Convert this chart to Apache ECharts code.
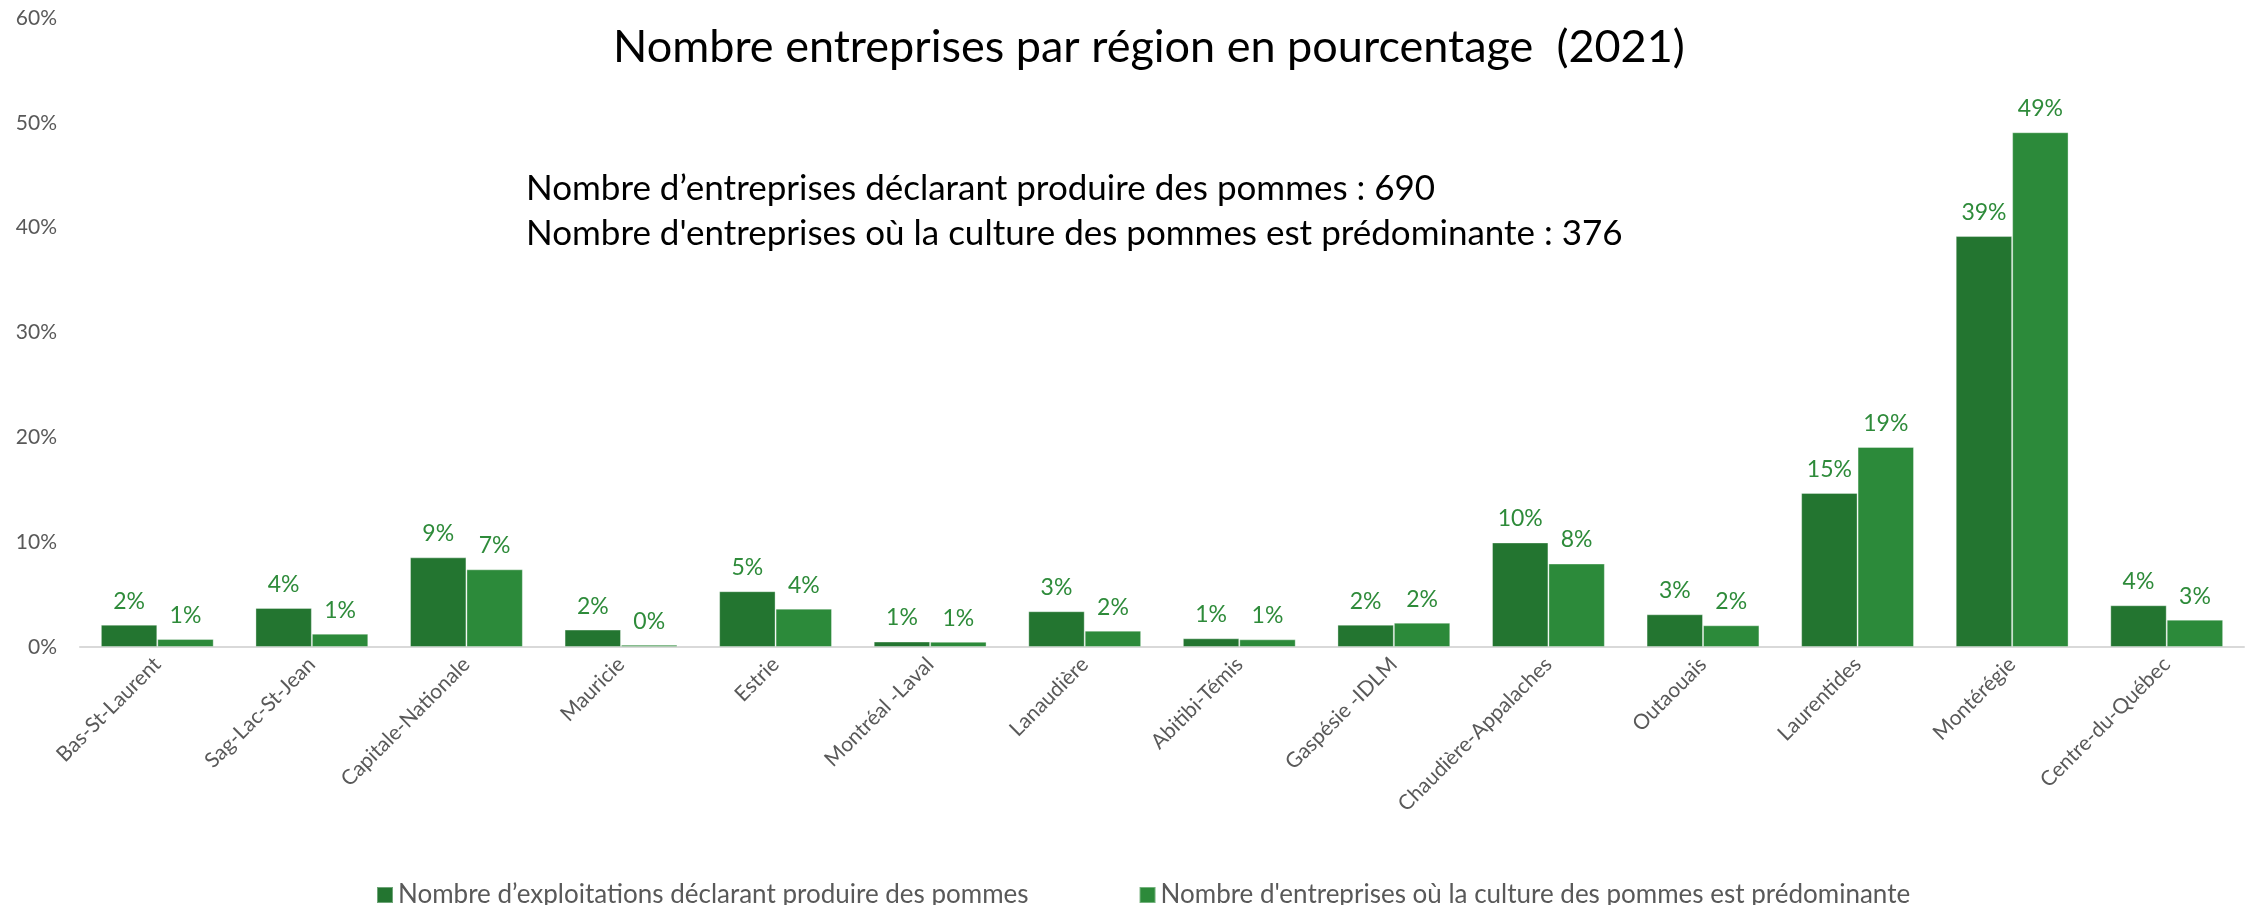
<!DOCTYPE html>
<html>
<head>
<meta charset="utf-8">
<script src="https://cdn.jsdelivr.net/npm/echarts@6/dist/echarts.min.js"></script>
<style>html,body{margin:0;padding:0;background:#fff}#c{width:2254px;height:905px}</style>
</head>
<body>
<div id="c"></div>
<script>
const categories = ["Bas-St-Laurent","Sag-Lac-St-Jean","Capitale-Nationale","Mauricie","Estrie","Montréal -Laval","Lanaudière","Abitibi-Témis","Gaspésie -IDLM","Chaudière-Appalaches","Outaouais","Laurentides","Montérégie","Centre-du-Québec"];
const seriesNames = ["Nombre d’exploitations déclarant produire des pommes","Nombre d'entreprises où la culture des pommes est prédominante"];
const exploitations = [2.13, 3.73, 8.55, 1.66, 5.32, 0.52, 3.41, 0.83, 2.13, 9.97, 3.12, 14.7, 39.2, 3.98];
const predominante = [0.76, 1.27, 7.41, 0.22, 3.66, 0.50, 1.56, 0.73, 2.32, 7.96, 2.07, 19.08, 49.1, 2.61];
const yTicks = {min: 0, max: 60, interval: 10};
const titleText = "Nombre entreprises par région en pourcentage  (2021)";
const noteLines = ["Nombre d’entreprises déclarant produire des pommes : 690", "Nombre d'entreprises où la culture des pommes est prédominante : 376"];

const FONT = "Lato, 'Open Sans', sans-serif";
const chart = echarts.init(document.getElementById('c'));
const labelCfg = {
  show: true, position: 'top', distance: 12,
  color: '#2E8B3A', fontSize: 23, fontFamily: FONT,
  formatter: p => Math.round(p.value) + '%'
};
chart.setOption({
  animation: false,
  title: {text: titleText, left: 608, top: 20,
    textStyle: {fontFamily: FONT, fontSize: 45, fontWeight: 'normal', color: '#000'}},
  graphic: noteLines.map((t, i) => ({
    type: 'text', left: 526, top: 171 + i * 45,
    style: {text: t, fontFamily: FONT, fontSize: 35, fill: '#000'}
  })),
  legend: {
    data: seriesNames, left: 371, top: 877, icon: 'rect',
    itemWidth: 16, itemHeight: 16, itemGap: 110,
    textStyle: {fontFamily: FONT, fontSize: 26, color: '#595959'}
  },
  grid: {left: 80, right: 10, top: 18, bottom: 258, containLabel: false},
  xAxis: {
    type: 'category', data: categories,
    axisLine: {lineStyle: {color: '#D9D9D9', width: 2}},
    axisTick: {show: false},
    axisLabel: {rotate: 45, interval: 0, margin: 14, color: '#595959', fontSize: 21, fontFamily: FONT}
  },
  yAxis: {
    type: 'value', min: yTicks.min, max: yTicks.max, interval: yTicks.interval,
    axisLine: {show: false}, axisTick: {show: false}, splitLine: {show: false},
    axisLabel: {formatter: '{value}%', color: '#595959', fontSize: 21, fontFamily: FONT, margin: 23}
  },
  series: [
    {name: seriesNames[0], type: 'bar', data: exploitations, barGap: '0%', barCategoryGap: '27%',
      itemStyle: {color: '#237530', borderColor: 'rgba(255,255,255,0.35)', borderWidth: 1}, label: labelCfg},
    {name: seriesNames[1], type: 'bar', data: predominante, barGap: '0%', barCategoryGap: '27%',
      itemStyle: {color: '#2C8A3A', borderColor: 'rgba(255,255,255,0.35)', borderWidth: 1}, label: labelCfg}
  ]
});
</script>
</body>
</html>
